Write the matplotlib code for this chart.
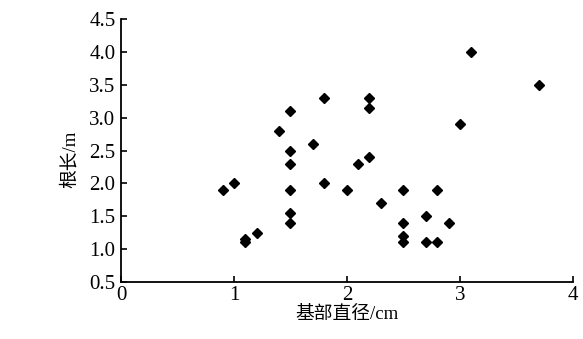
import matplotlib.pyplot as plt
import matplotlib as mpl

mpl.rcParams['font.family'] = ['Liberation Serif', 'Noto Sans CJK SC', 'DejaVu Sans']
mpl.rcParams['axes.unicode_minus'] = False

# 基部直径 (cm) 与 根长 (m)
diameter = [0.9, 1.0, 1.1, 1.1, 1.2, 1.4, 1.5, 1.5, 1.5, 1.5, 1.5, 1.5, 1.7,
            1.8, 1.8, 2.0, 2.1, 2.2, 2.2, 2.2, 2.3, 2.5, 2.5, 2.5, 2.5,
            2.7, 2.7, 2.8, 2.8, 2.9, 3.0, 3.1, 3.7]
root_len = [1.9, 2.0, 1.15, 1.1, 1.25, 2.8, 3.1, 2.5, 2.3, 1.9, 1.55, 1.4, 2.6,
            3.3, 2.0, 1.9, 2.3, 3.3, 3.15, 2.4, 1.7, 1.9, 1.4, 1.2, 1.1,
            1.5, 1.1, 1.9, 1.1, 1.4, 2.9, 4.0, 3.5]

x_ticks = [0, 1, 2, 3, 4]
y_ticks = [0.5, 1.0, 1.5, 2.0, 2.5, 3.0, 3.5, 4.0, 4.5]

fig = plt.figure(figsize=(5.83, 3.39), dpi=100)
ax = fig.add_axes([0.2075, 0.169, 0.775, 0.774])

ax.plot(diameter, root_len, linestyle='none', marker='D', ms=4.8,
        color='black', clip_on=False)

ax.set_xlim(0, 4)
ax.set_ylim(0.5, 4.5)
ax.set_xticks(x_ticks)
ax.set_yticks(y_ticks)
ax.set_yticklabels([f'{v:.1f}' for v in y_ticks])

for s in ['top', 'right']:
    ax.spines[s].set_visible(False)
for s in ['left', 'bottom']:
    ax.spines[s].set_linewidth(1.3)

ax.tick_params(axis='x', direction='in', length=4, width=1.2, labelsize=15, pad=3)
ax.tick_params(axis='y', direction='in', length=4, width=1.2, labelsize=15, pad=4)

ax.set_xlabel('基部直径/cm', fontsize=13.5, labelpad=1)
ax.set_ylabel('根长/m', fontsize=13.5)
ax.yaxis.set_label_coords(-0.093, 0.468)

plt.savefig('out.png', dpi=100)
plt.close()
